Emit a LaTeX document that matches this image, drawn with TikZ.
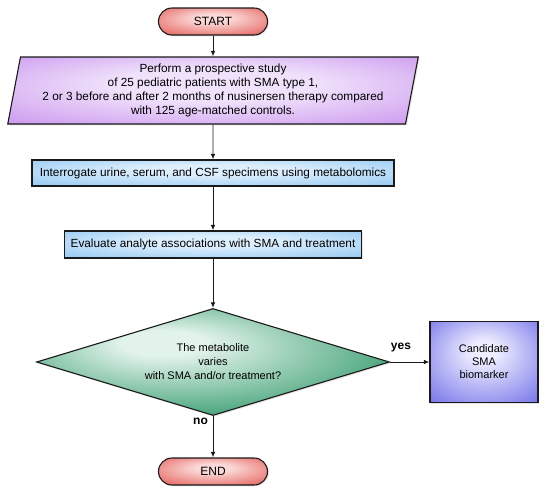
\documentclass[tikz,border=0pt]{standalone}
\usepackage{fontspec}
\setmainfont{Liberation Sans}
\usetikzlibrary{shapes.geometric,arrows.meta,shadows}

\definecolor{redIn}{HTML}{FAD8D6}
\definecolor{redOut}{HTML}{E04843}
\definecolor{purIn}{HTML}{F0E2FB}
\definecolor{purOut}{HTML}{BE7DEA}
\definecolor{bluIn}{HTML}{DDEFFD}
\definecolor{bluOut}{HTML}{7DBCEF}
\definecolor{grnIn}{HTML}{E2F3EA}
\definecolor{grnOut}{HTML}{379C6F}
\definecolor{vioIn}{HTML}{EDEDFF}
\definecolor{vioOut}{HTML}{6462E6}
\definecolor{edge}{HTML}{1A1A1A}

\pgfdeclareradialshading{redsh}{\pgfpoint{0bp}{8bp}}{color(0bp)=(redIn); color(8bp)=(redIn); color(42bp)=(redOut); color(50bp)=(redOut)}
\pgfdeclareradialshading{pursh}{\pgfpoint{0bp}{6bp}}{color(0bp)=(purIn); color(12bp)=(purIn); color(46bp)=(purOut); color(50bp)=(purOut)}
\pgfdeclareradialshading{blush}{\pgfpoint{0bp}{8bp}}{color(0bp)=(bluIn); color(10bp)=(bluIn); color(46bp)=(bluOut); color(50bp)=(bluOut)}
\pgfdeclareradialshading{grnsh}{\pgfpoint{-8bp}{10bp}}{color(0bp)=(grnIn); color(6bp)=(grnIn); color(32bp)=(grnOut); color(50bp)=(grnOut)}
\pgfdeclareradialshading{viosh}{\pgfpoint{0bp}{8bp}}{color(0bp)=(vioIn); color(6bp)=(vioIn); color(42bp)=(vioOut); color(50bp)=(vioOut)}

\begin{document}
\begin{tikzpicture}[x=1pt,y=-1pt,
  base/.style={draw=edge, line width=1.1pt, align=center, inner sep=0pt, text=black,
    drop shadow={opacity=0.22, shadow xshift=1.3pt, shadow yshift=-1.3pt}},
  term/.style={base, rounded corners=13.5pt, minimum width=109pt, minimum height=27pt,
    shading=redsh, font=\fontsize{12}{14}\selectfont},
  parabox/.style={base, trapezium, trapezium left angle=78, trapezium right angle=102,
    trapezium stretches=true, minimum width=411pt, minimum height=67pt,
    shading=pursh, font=\fontsize{11.8}{14}\selectfont},
  proc/.style={base, rectangle, shading=blush, font=\fontsize{11.8}{14}\selectfont},
  decision/.style={base, diamond, aspect=3.3, minimum width=353pt, minimum height=107pt,
    shading=grnsh, font=\fontsize{11}{14}\selectfont},
  candbox/.style={base, rectangle, minimum width=108pt, minimum height=81pt,
    shading=viosh, font=\fontsize{11}{13}\selectfont},
  lbl/.style={font=\bfseries\fontsize{12}{14}\selectfont, inner sep=0pt},
  arr/.style={draw=edge, line width=0.9pt, -{Latex[length=5.5pt,width=4.5pt]}}
]
\useasboundingbox (0,0) rectangle (550,496);

\node[term] (start) at (213,21.5) {START};
\node[parabox] (study) at (213,90.5) {Perform a prospective study\\ of 25 pediatric patients with SMA type 1,\\ 2 or 3 before and after 2 months of nusinersen therapy compared\\ with 125 age-matched controls.};
\node[proc, minimum width=362pt, minimum height=26pt] (interr) at (213,173) {Interrogate urine, serum, and CSF specimens using metabolomics};
\node[proc, minimum width=297pt, minimum height=27pt] (eval) at (213,244.5) {Evaluate analyte associations with SMA and treatment};
\node[decision] (dec) at (213,362) {The metabolite\\ varies\\ with SMA and/or treatment?};
\node[candbox] (cand) at (484,362) {Candidate\\ SMA\\ biomarker};
\node[term] (end) at (213,471.5) {END};

\node[lbl] (yes) at (401,347.5) {yes};
\node[lbl] (no) at (200.5,421) {no};

\draw[arr] (start) -- (study);
\draw[arr] (study) -- (interr);
\draw[arr] (interr) -- (eval);
\draw[arr] (eval) -- (dec);
\draw[arr] (dec) -- (cand);
\draw[arr] (dec) -- (end);
\end{tikzpicture}
\end{document}
